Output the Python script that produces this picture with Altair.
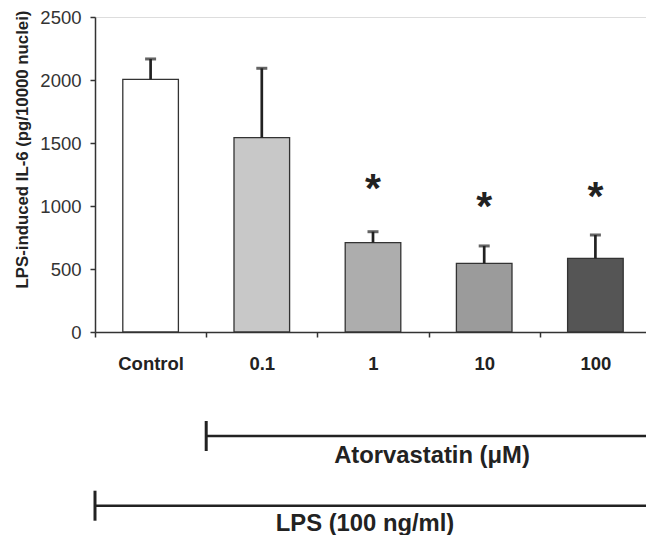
import altair as alt
import pandas as pd

categories = ["Control", "0.1", "1", "10", "100"]
means = [2005, 1542, 709, 545, 585]
err_upper = [2167, 2093, 796, 683, 770]
star_y = [None, None, 1175, 1034, 1113]
bar_colors = ["#ffffff", "#c8c8c8", "#adadad", "#9b9b9b", "#555555"]
y_ticks = [0, 500, 1000, 1500, 2000, 2500]

ann_labels = ["Atorvastatin (\u03bcM)", "LPS (100 ng/ml)"]
ann_start = ["0.1", "Control"]

df = pd.DataFrame({"cat": categories, "mean": means, "upper": err_upper, "star": star_y})
stars = df.dropna(subset=["star"])

FONT = "Liberation Sans"
INK = "#222222"
W, H = 556, 315

xscale = alt.Scale(domain=categories, paddingInner=0, paddingOuter=0)
yscale = alt.Scale(domain=[0, 2500], nice=False)

x_axis = alt.Axis(
    title=None, tickBand="extent", labelAngle=0, labelFont=FONT, labelFontSize=18.5,
    labelFontWeight="bold", labelColor=INK, labelPadding=17, tickSize=5,
    tickColor="#333333", domainColor="#333333", domainWidth=1.5, tickWidth=1.5,
)
y_axis = alt.Axis(
    title="LPS-induced IL-6 (pg/10000 nuclei)", values=y_ticks, format="d", grid=False,
    labelFont=FONT, labelFontSize=18.5, labelColor="#333333", labelPadding=9,
    tickSize=5, tickColor="#333333", tickWidth=1.5, domainColor="#333333", domainWidth=1.5,
    titleFont=FONT, titleFontSize=16.8, titleFontWeight="bold", titleColor=INK,
    titlePadding=8, titleY=132,
)

def xenc(**kw):
    return alt.X("cat:N", scale=xscale, sort=categories, **kw)

bars = alt.Chart(df).mark_bar(width={"band": 0.5}, stroke="#333333", strokeWidth=1.3).encode(
    x=xenc(axis=x_axis),
    y=alt.Y("mean:Q", scale=yscale, axis=y_axis),
    color=alt.Color("cat:N", scale=alt.Scale(domain=categories, range=bar_colors), legend=None),
)
err = alt.Chart(df).mark_rule(strokeWidth=2.7, color=INK).encode(
    x=xenc(), y=alt.Y("mean:Q"), y2="upper:Q"
)
caps = alt.Chart(df).mark_tick(size=11, thickness=3, color=INK).encode(
    x=xenc(), y=alt.Y("upper:Q")
)
star_marks = alt.Chart(stars).mark_text(
    text="*", font=FONT, fontSize=41, fontWeight="bold", baseline="alphabetic", dy=18, color=INK
).encode(x=xenc(), y=alt.Y("star:Q"))

layers = [bars, err, caps, star_marks]

ann_line_y = [419, 488.7]
ann_text_x = [337, 270]
ann_text_y = [445.5, 514]
for lab, start, ly, tx, ty in zip(ann_labels, ann_start, ann_line_y, ann_text_x, ann_text_y):
    row = pd.DataFrame({"cat": [start], "label": [lab]})
    layers.append(
        alt.Chart(row).mark_rule(strokeWidth=2.5, color=INK).encode(
            x=xenc(bandPosition=0), x2=alt.value(W + 20), y=alt.value(ly)
        )
    )
    layers.append(
        alt.Chart(row).mark_rule(strokeWidth=3, color=INK).encode(
            x=xenc(bandPosition=0), y=alt.value(ly - 15), y2=alt.value(ly + 15)
        )
    )
    layers.append(
        alt.Chart(row).mark_text(
            font=FONT, fontSize=23.8, fontWeight="bold", align="center",
            baseline="alphabetic", color=INK
        ).encode(text="label:N", x=alt.value(tx), y=alt.value(ty))
    )

chart = alt.layer(*layers).properties(
    width=W, height=H,
    autosize=alt.AutoSizeParams(type="none"),
    padding={"left": 87, "top": 9, "right": -5, "bottom": 203},
).configure_view(stroke=None).configure(background="white")

chart.save("out.html", embed_options={"renderer": "svg", "actions": False})
